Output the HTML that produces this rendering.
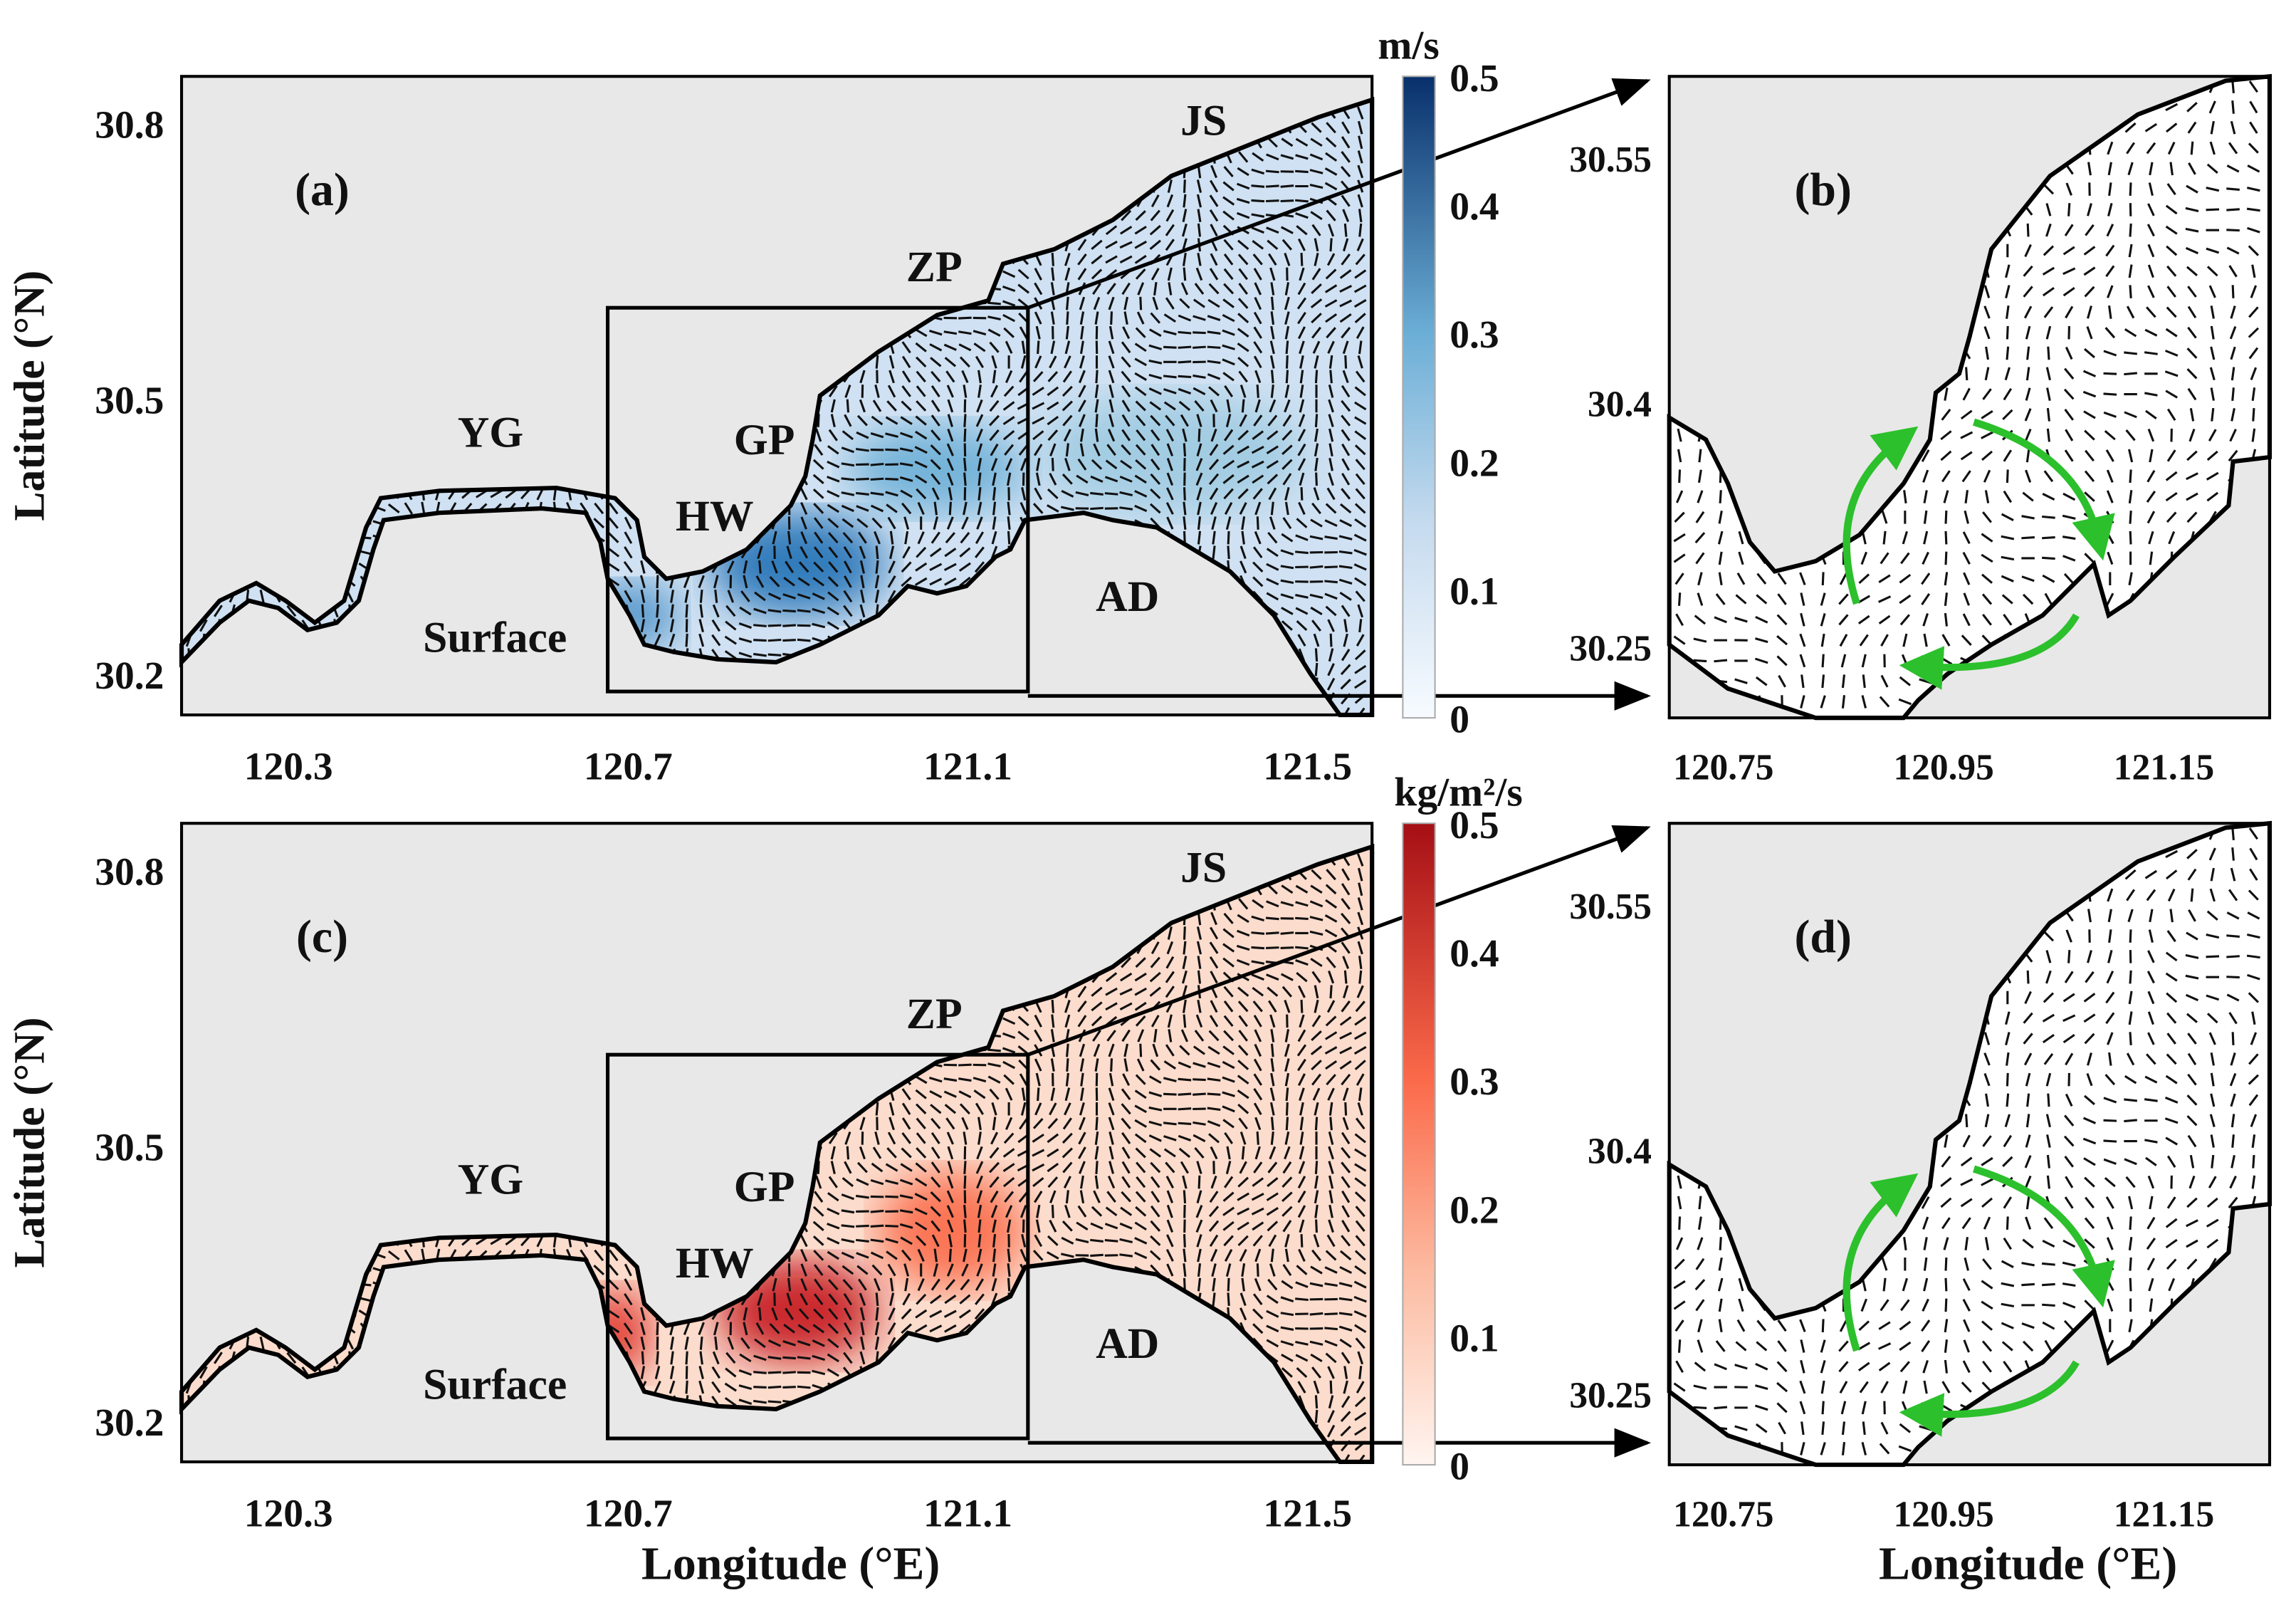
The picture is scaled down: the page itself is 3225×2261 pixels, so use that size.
<!DOCTYPE html>
<html><head><meta charset="utf-8"><style>
html,body{margin:0;padding:0;background:#fff}
svg{display:block}
text{font-family:"Liberation Serif",serif;font-weight:bold;fill:#111}
</style></head><body>
<svg id="fig" xmlns="http://www.w3.org/2000/svg" width="3225" height="2261" viewBox="0 0 1568 1099">
<defs>
<linearGradient id="gBlue" x1="0" y1="1" x2="0" y2="0"><stop offset="0" stop-color="#f7fbff"/><stop offset="0.3" stop-color="#c6dbef"/><stop offset="0.6" stop-color="#6baed6"/><stop offset="1" stop-color="#08306b"/></linearGradient>
<linearGradient id="gRed" x1="0" y1="1" x2="0" y2="0"><stop offset="0" stop-color="#fff5f0"/><stop offset="0.3" stop-color="#fcbba1"/><stop offset="0.6" stop-color="#fb6a4a"/><stop offset="1" stop-color="#a50f15"/></linearGradient>
<filter id="blur"><feGaussianBlur stdDeviation="14"/></filter>
<marker id="ah" markerWidth="10" markerHeight="8" refX="9" refY="4" orient="auto"><path d="M0,0 L10,4 L0,8 z" fill="#000"/></marker>
<marker id="gh" markerWidth="6" markerHeight="6" refX="3" refY="3" orient="auto"><path d="M0,0 L6,3 L0,6 z" fill="#2cc02c"/></marker>
<clipPath id="clipA"><path id="waterA" d="M124,440 L150,410 L175,398 L195,410 L215,425 L235,410 L250,360 L260,340 L300,335 L380,333 L420,340 L435,355 L440,380 L455,395 L480,390 L510,375 L540,345 L550,325 L555,300 L560,270 L600,240 L640,215 L675,205 L685,180 L720,170 L760,150 L800,120 L850,100 L900,80 L937,68 L937,488 L915,488 L895,460 L870,420 L840,390 L815,375 L790,360 L760,355 L740,350 L700,355 L690,375 L680,380 L660,400 L640,405 L620,400 L600,420 L560,440 L530,452 L490,450 L460,445 L440,440 L430,420 L415,395 L410,370 L400,350 L370,347 L300,350 L262,355 L255,375 L245,410 L230,425 L210,430 L190,415 L170,410 L150,425 L124,452 Z"/></clipPath>
<clipPath id="clipB"><path id="waterB" d="M1140,285 L1165,300 L1180,330 L1195,370 L1212,390 L1240,383 L1270,365 L1300,330 L1318,300 L1322,268 L1338,255 L1345,230 L1360,170 L1400,120 L1460,78 L1520,55 L1550,52 L1550,312 L1525,315 L1522,345 L1485,380 L1455,410 L1440,420 L1430,385 L1420,395 L1395,420 L1360,440 L1330,460 L1310,478 L1300,490 L1240,490 L1210,480 L1180,470 L1160,455 L1140,440 Z"/></clipPath>
</defs>
<g id="root"></g>
</svg>
<script>
// axis tick data
const latTicksA = ["30.8","30.5","30.2"];
const latValsA = [30.8,30.5,30.2];
const lonTicksA = ["120.3","120.7","121.1","121.5"];
const lonValsA = [120.3,120.7,121.1,121.5];
const latTicksB = ["30.55","30.4","30.25"];
const latValsB = [30.55,30.4,30.25];
const lonTicksB = ["120.75","120.95","121.15"];
const lonValsB = [120.75,120.95,121.15];
const cbVals = [0,0.1,0.2,0.3,0.4,0.5];
const cbLabels = ["0","0.1","0.2","0.3","0.4","0.5"];
const NS="http://www.w3.org/2000/svg";
const root=document.getElementById('root');
function el(tag,attrs,parent){const e=document.createElementNS(NS,tag);for(const k in attrs)e.setAttribute(k,attrs[k]);(parent||root).appendChild(e);return e;}
function txt(s,x,y,size,parent,anchor){const t=el('text',{x:x,y:y,'font-size':size,'text-anchor':anchor||'middle'},parent);t.textContent=s;return t;}
const xA=v=>197+(v-120.3)*580, yA=v=>85+(30.8-v)*626.7;
const xB=v=>1177+(v-120.75)*752, yB=v=>108+(30.55-v)*1113;
const cbY=v=>490-v*876;

function panel(off,isVel,letterL,letterR){
  const g=el('g',{transform:'translate(0,'+off+')'});
  
  
  el('rect',{x:124,y:52,width:813,height:436,fill:'#e8e8e8'},g);
  el('use',{href:'#waterA',fill:isVel?'#cfe1f2':'#fcdccc'},g);
  const cg=el('g',{'clip-path':'url(#clipA)'},g);
  const hot=isVel?[['#2171b5',545,385,60,35],['#4a90c8',430,420,35,22],['#6baed6',640,320,60,30],['#9ecae1',800,310,90,40]]:
                  [['#c4161c',545,385,55,35],['#de2d26',420,400,25,30],['#fb6a4a',650,330,50,40],['#fc9272',760,420,60,18],['#f4a582',800,440,40,20]];
  hot.forEach(h=>el('ellipse',{cx:h[1],cy:h[2],rx:h[3],ry:h[4],fill:h[0],filter:'url(#blur)',opacity:0.9},cg));
  quiver(cg,124,52,937,488,10,1);
  el('use',{href:'#waterA',fill:'none',stroke:'#000','stroke-width':3},g);
  el('rect',{x:124,y:52,width:813,height:436,fill:'none',stroke:'#000','stroke-width':2},g);
  el('rect',{x:415,y:210,width:287,height:262,fill:'none',stroke:'#000','stroke-width':2.5},g);
  el('line',{x1:702,y1:210,x2:1125,y2:55,stroke:'#000','stroke-width':2.5,'marker-end':'url(#ah)'},g);
  el('line',{x1:702,y1:475,x2:1125,y2:475,stroke:'#000','stroke-width':2.5,'marker-end':'url(#ah)'},g);
  txt(letterL,220,140,32,g);
  [['YG',335,305],['GP',522,310],['HW',488,362],['ZP',638,192],['JS',822,92],['AD',770,417],['Surface',338,445]].forEach(a=>txt(a[0],a[1],a[2],30,g));
  latTicksA.forEach((s,i)=>txt(s,112,yA(latValsA[i])+9,27,g,'end'));
  lonTicksA.forEach((s,i)=>txt(s,xA(lonValsA[i]),532,27,g));
  el('rect',{x:958,y:52,width:22,height:438,fill:isVel?'url(#gBlue)':'url(#gRed)',stroke:'#aaa','stroke-width':1},g);
  cbLabels.forEach((s,i)=>txt(s,990,cbY(cbVals[i])+10,27,g,'start'));
  if(isVel) txt('m/s',962,40,28,g); else txt('kg/m²/s',996,40,28,g);
  el('rect',{x:1140,y:52,width:410,height:438,fill:'#e8e8e8'},g);
  el('use',{href:'#waterB',fill:'#fff'},g);
  const cb=el('g',{'clip-path':'url(#clipB)'},g);
  quiver(cb,1140,52,1550,490,14,2);
  el('use',{href:'#waterB',fill:'none',stroke:'#000','stroke-width':3},g);
  el('rect',{x:1140,y:52,width:410,height:438,fill:'none',stroke:'#000','stroke-width':2},g);
  txt(letterR,1245,140,32,g);
  latTicksB.forEach((s,i)=>txt(s,1128,yB(latValsB[i])+9,25,g,'end'));
  lonTicksB.forEach((s,i)=>txt(s,xB(lonValsB[i]),532,25,g));
  [['M1268,412 Q1245,340 1298,300'],['M1348,288 Q1420,310 1433,368'],['M1418,420 Q1395,460 1312,455']].forEach(p=>{
    const a=el('path',{d:p[0],fill:'none',stroke:'#2cc02c','stroke-width':5,'marker-end':'url(#gh)'},g);
    
    
  });
}
function quiver(g,x0,y0,x1,y1,step,seed){
  let p='';
  for(let y=y0+step/2;y<y1;y+=step){for(let x=x0+step/2;x<x1;x+=step){
    const a=1.3+0.9*Math.sin(x*0.037+y*0.021+seed)+0.5*Math.cos(x*0.011-y*0.05);
    const L=4.5;const dx=Math.cos(a)*L,dy=Math.sin(a)*L;
    p+='M'+(x-dx).toFixed(1)+','+(y-dy).toFixed(1)+'L'+(x+dx).toFixed(1)+','+(y+dy).toFixed(1);
  }}
  el('path',{d:p,stroke:'#111','stroke-width':1.5,fill:'none'},g);
}
panel(0,true,'(a)','(b)');
panel(510,false,'(c)','(d)');
[[30,270],[30,780]].forEach(c=>{const t=txt('Latitude (°N)',c[0],c[1],30,root);t.setAttribute('transform','rotate(-90 '+c[0]+' '+c[1]+')');});
[[540,1078],[1385,1078]].forEach(c=>{const t=txt('Longitude (°E)',c[0],c[1],32,root);});
</script>
</body></html>
